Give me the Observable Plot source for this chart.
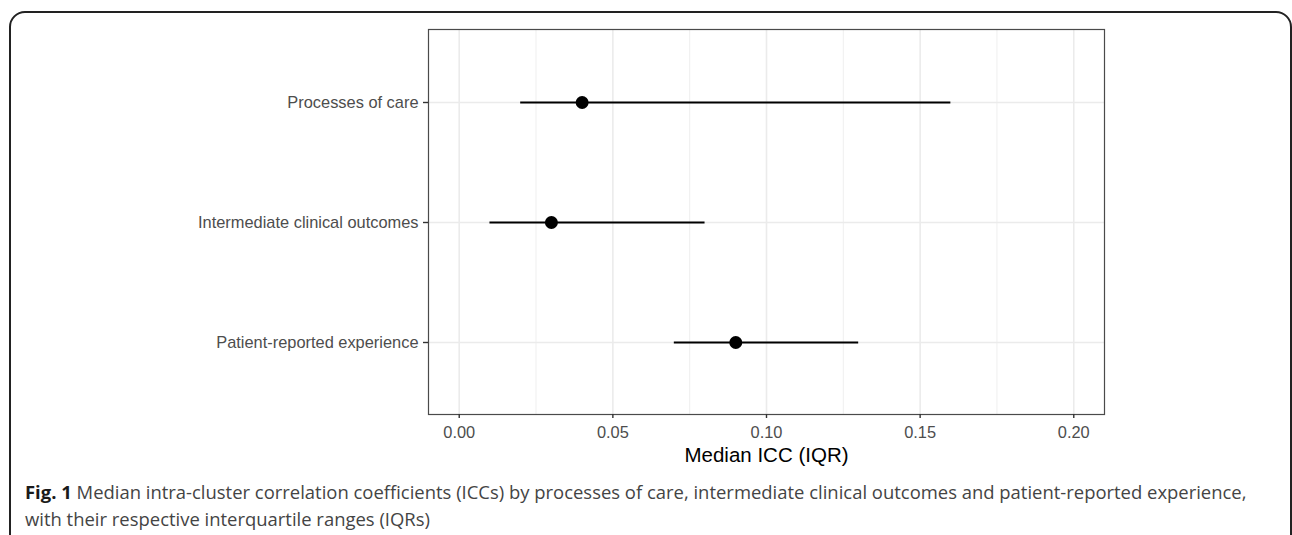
<!DOCTYPE html>
<html>
<head>
<meta charset="utf-8">
<script src="https://cdn.jsdelivr.net/npm/d3@7"></script>
<script src="https://cdn.jsdelivr.net/npm/@observablehq/plot@0.6"></script>
<style>
  html, body { margin: 0; padding: 0; background: #fff; width: 1292px; height: 535px; overflow: hidden; }
  #box { position: absolute; left: 9px; top: 11px; width: 1283px; height: 620px; border: 2px solid #222; border-radius: 16px; box-sizing: border-box; }
  #chart { position: absolute; left: 0; top: 0; }
  .cap { position: absolute; left: 25px; white-space: nowrap; font-family: "Open Sans", "Noto Sans", sans-serif; color: #444; line-height: 20px; }
  .cap b { color: #1a1a1a; font-weight: 700; }
</style>
</head>
<body>
<div id="box"></div>
<div id="chart"></div>
<div class="cap" id="cap1"><b>Fig. 1</b> Median intra-cluster correlation coefficients (ICCs) by processes of care, intermediate clinical outcomes and patient-reported experience,</div>
<div class="cap" id="cap2">with their respective interquartile ranges (IQRs)</div>
<script>
// Data
const categories = ["Processes of care", "Intermediate clinical outcomes", "Patient-reported experience"];
const medians = [0.04, 0.03, 0.09];
const lows = [0.02, 0.01, 0.07];
const highs = [0.16, 0.08, 0.13];
const xTicks = [0.00, 0.05, 0.10, 0.15, 0.20];
const xMinorTicks = [0.025, 0.075, 0.125, 0.175];
const xLabel = "Median ICC (IQR)";

const data = categories.map((c, i) => ({cat: c, med: medians[i], lo: lows[i], hi: highs[i]}));

const W = 1292, H = 470;
const plot = Plot.plot({
  width: W,
  height: H,
  marginLeft: 428,
  marginRight: 188,
  marginTop: 29,
  marginBottom: 56,
  style: {fontFamily: "'Liberation Sans', Arial, sans-serif", background: "transparent"},
  x: {domain: [-0.01, 0.21], label: null, axis: null},
  y: {type: "point", domain: categories, padding: 0.6, label: null, axis: null},
  marks: [
    Plot.gridX(xMinorTicks, {stroke: "#ebebeb", strokeOpacity: 1, strokeWidth: 0.8}),
    Plot.gridX(xTicks, {stroke: "#ebebeb", strokeOpacity: 1, strokeWidth: 1.6}),
    Plot.gridY(categories, {stroke: "#ebebeb", strokeOpacity: 1, strokeWidth: 1.6}),
    Plot.frame({stroke: "#4a4a4a", strokeWidth: 1.2}),
    Plot.axisX(xTicks, {
      tickSize: 4, tickPadding: 8, fontSize: 16.4, fill: "#4d4d4d", stroke: "#333", strokeWidth: 1.4,
      tickFormat: d3.format(".2f"), label: null
    }),
    Plot.axisY(categories, {
      tickSize: 5, tickPadding: 5, fontSize: 16.4, fill: "#4d4d4d", stroke: "#333", strokeWidth: 1.4, label: null
    }),
    Plot.text([xLabel], {frameAnchor: "bottom", dy: 41, lineAnchor: "middle", fontSize: 20.5, fill: "#000"}),
    Plot.ruleY(data, {x1: "lo", x2: "hi", y: "cat", stroke: "#000", strokeWidth: 2}),
    Plot.dot(data, {x: "med", y: "cat", r: 6.5, fill: "#000", stroke: null})
  ]
});
document.getElementById("chart").appendChild(plot);

// Fit caption font size so the first line spans the reference width
const cap1 = document.getElementById("cap1");
const cap2 = document.getElementById("cap2");
let fs = 16;
cap1.style.fontSize = fs + "px";
const w = cap1.getBoundingClientRect().width;
fs = fs * 1222 / w;
cap1.style.fontSize = fs + "px";
cap2.style.fontSize = fs + "px";
cap1.style.top = "482px";
cap2.style.top = "509px";
</script>
</body>
</html>
